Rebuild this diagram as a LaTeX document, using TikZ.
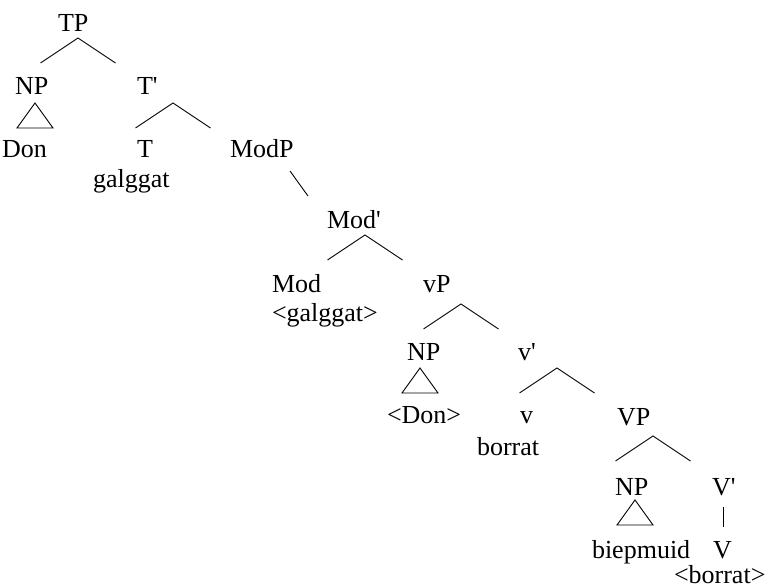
\documentclass[tikz,border=0pt]{standalone}
\usepackage{fontspec}
\setmainfont{Liberation Serif}
\usetikzlibrary{calc}
\newcommand{\pr}{\textquotesingle}
\begin{document}
\begin{tikzpicture}[x=1pt,y=-1pt,
  lab/.style={inner sep=0pt,outer sep=0pt,anchor=base west,font=\fontsize{26}{30}\selectfont},
  branch/.style={line width=0.9pt},
  tri/.style={line width=0.9pt}]
\useasboundingbox (0,0) rectangle (768,588);
% texts
\node[lab] (TP) at (58,32) {TP};
\node[lab] (NP1) at (15,95) {NP};
\node[lab] (Tbar) at (137,95) {T\pr};
\node[lab] (Don) at (2,158) {Don};
\node[lab] (T) at (137,158) {T};
\node[lab] (ModP) at (230,158) {ModP};
\node[lab] (galggat) at (93,188) {galggat};
\node[lab] (Modbar) at (327,228) {Mod\pr};
\node[lab] (Mod) at (272,292) {Mod};
\node[lab] (galggat2) at (272,321) {<galggat>};
\node[lab] (vP) at (423,292) {vP};
\node[lab] (NP2) at (407,360) {NP};
\node[lab] (vbar) at (518,360) {v\pr};
\node[lab] (Don2) at (387,423) {<Don>};
\node[lab] (v) at (520,423) {v};
\node[lab] (borrat) at (477,455) {borrat};
\node[lab] (VP) at (617,425) {VP};
\node[lab] (NP3) at (615,495) {NP};
\node[lab] (Vbar) at (712,495) {V\pr};
\node[lab] (biepmuid) at (592,558) {biepmuid};
\node[lab] (V) at (713,558) {V};
\node[lab] (borrat2) at (674,583) {<borrat>};
% branches
\coordinate (aTP) at (78,38);
\coordinate (aTbar) at (173,103);
\coordinate (aModbar) at (365,235);
\coordinate (avP) at (461,304);
\coordinate (avbar) at (557,368);
\coordinate (aVP) at (653,436);
\foreach \a in {aTP,aTbar,aModbar,avP,avbar,aVP}{
  \draw[branch] ($(\a)+(-37.5,25)$) -- (\a) -- ($(\a)+(37.5,25)$);
}
\coordinate (mA) at (290,171);
\coordinate (mB) at (308,196);
\draw[branch] (mA) -- (mB);
\coordinate (vA) at (723,507);
\coordinate (vB) at (723,527);
\draw[branch] (vA) -- (vB);
% triangles
\coordinate (t1) at (35,103);
\coordinate (t2) at (420,368);
\coordinate (t3) at (635,500);
\foreach \t in {t1,t2,t3}{
  \draw[tri] (\t) -- ($(\t)+(-18,25)$) -- ($(\t)+(18,25)$) -- cycle;
}
\end{tikzpicture}
\end{document}
